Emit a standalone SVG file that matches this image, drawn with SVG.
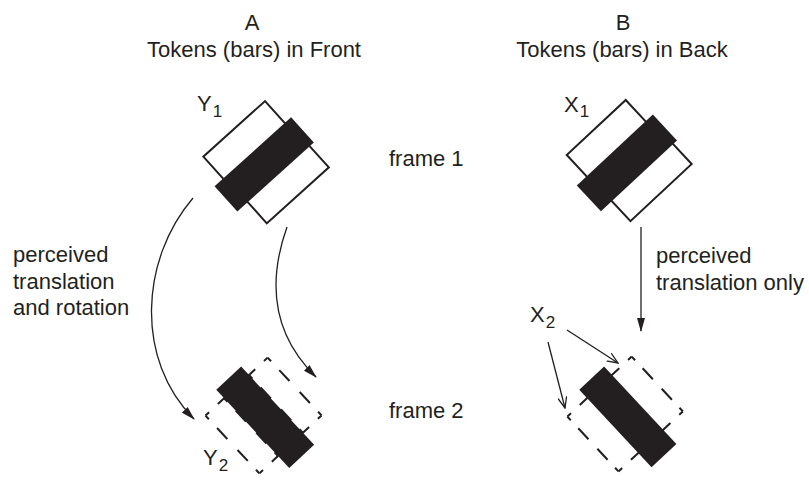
<svg xmlns="http://www.w3.org/2000/svg" width="809" height="481" viewBox="0 0 809 481">
<defs>
<style>
text{font-family:"Liberation Sans",Arial,sans-serif;fill:#231f20;font-size:22px}
.sub{font-size:17px}
.wb{fill:#fff;stroke:#231f20;stroke-width:2}
.bk{fill:#231f20}
.ds{stroke:#231f20;stroke-width:2;fill:none}
.ar{stroke:#231f20;stroke-width:1.3;fill:none}
</style>
<marker id="tri" viewBox="0 0 14 8" refX="13" refY="4" markerWidth="14" markerHeight="8" markerUnits="userSpaceOnUse" orient="auto">
<path d="M0,0 L14,4 L0,8 Z" fill="#231f20"/>
</marker>
<marker id="vee" viewBox="0 0 12 10" refX="11" refY="5" markerWidth="12" markerHeight="10" markerUnits="userSpaceOnUse" orient="auto">
<path d="M0,0.5 L11,5 L0,9.5" fill="none" stroke="#231f20" stroke-width="1.3"/>
</marker>
</defs>
<rect width="809" height="481" fill="#fff"/>

<g id="titles">
<text x="252" y="29.5" text-anchor="middle">A</text>
<text x="254" y="57" text-anchor="middle">Tokens (bars) in Front</text>
<text x="623" y="29.5" text-anchor="middle">B</text>
<text x="622" y="57" text-anchor="middle">Tokens (bars) in Back</text>
<text x="389" y="166">frame 1</text>
<text x="389" y="418">frame 2</text>
</g>

<g id="Y1">
<g transform="translate(264.2,164.4) rotate(-42)">
<rect class="wb" x="-40" y="-46.5" width="83" height="36"/>
<rect class="wb" x="-37.5" y="10" width="83.5" height="35.5"/>
<rect class="bk" x="-51.5" y="-17" width="103" height="34"/>
</g>
<text x="197" y="111">Y<tspan class="sub" dx="1" dy="6">1</tspan></text>
</g>

<g id="X1">
<g transform="translate(626.9,162.9) rotate(-43)">
<rect class="wb" x="-38.6" y="-46.8" width="80.6" height="36"/>
<rect class="wb" x="-37.1" y="10" width="83.7" height="35"/>
<rect class="bk" x="-52" y="-17.7" width="104" height="35.4"/>
</g>
<text x="564" y="112">X<tspan class="sub" dx="1" dy="5">1</tspan></text>
</g>

<g id="Y2">
<g transform="translate(263.5,415.5) rotate(47)">
<line class="ds" x1="-39.5" y1="-42.5" x2="39.5" y2="-42.5" stroke-dasharray="5 12 15 15 15 12 5"/>
<line class="ds" x1="-39.5" y1="42.5" x2="39.5" y2="42.5" stroke-dasharray="5 12 15 15 15 12 5"/>
<line class="ds" x1="-39.5" y1="-42.5" x2="-39.5" y2="42.5" stroke-dasharray="5 12 11 29 11 12 5"/>
<line class="ds" x1="39.5" y1="-42.5" x2="39.5" y2="42.5" stroke-dasharray="5 12 11 29 11 12 5"/>
<rect class="bk" x="-51" y="-17" width="107" height="34"/>
<line class="ds" x1="-39.5" y1="-17" x2="39.5" y2="-17" stroke-dasharray="5 12 15 15 15 12 5"/>
<line class="ds" x1="-39.5" y1="17" x2="39.5" y2="17" stroke-dasharray="5 12 15 15 15 12 5"/>
</g>
<text x="203" y="465">Y<tspan class="sub" dx="1" dy="6">2</tspan></text>
</g>

<g id="X2">
<g transform="translate(625.1,414) rotate(47)">
<line class="ds" x1="-37.5" y1="-44" x2="37.5" y2="-44" stroke-dasharray="5 11 15 13 15 11 5"/>
<line class="ds" x1="-37.5" y1="44" x2="37.5" y2="44" stroke-dasharray="5 11 15 13 15 11 5"/>
<line class="ds" x1="-37.5" y1="-44" x2="-37.5" y2="44" stroke-dasharray="5 12 12 30 12 12 5"/>
<line class="ds" x1="37.5" y1="-44" x2="37.5" y2="44" stroke-dasharray="5 12 12 30 12 12 5"/>
<rect class="bk" x="-49" y="-17" width="106" height="34"/>
</g>
<text x="530" y="322">X<tspan class="sub" dx="1" dy="6">2</tspan></text>
</g>

<g id="labels">
<text x="13" y="262">perceived</text>
<text x="13" y="288.5">translation</text>
<text x="13" y="315">and rotation</text>
<text x="656" y="263">perceived</text>
<text x="656" y="290">translation only</text>
</g>

<g id="connectors">
<path class="ar" d="M193,198 C140,260 135,360 194,419" marker-end="url(#tri)"/>
<path class="ar" d="M287,227 C270,275 268,330 316,377" marker-end="url(#tri)"/>
<line class="ar" x1="641" y1="227" x2="641" y2="331" marker-end="url(#tri)"/>
<line class="ar" x1="548" y1="342" x2="565" y2="408" marker-end="url(#vee)"/>
<line class="ar" x1="567" y1="330" x2="618" y2="363" marker-end="url(#vee)"/>
</g>
</svg>
